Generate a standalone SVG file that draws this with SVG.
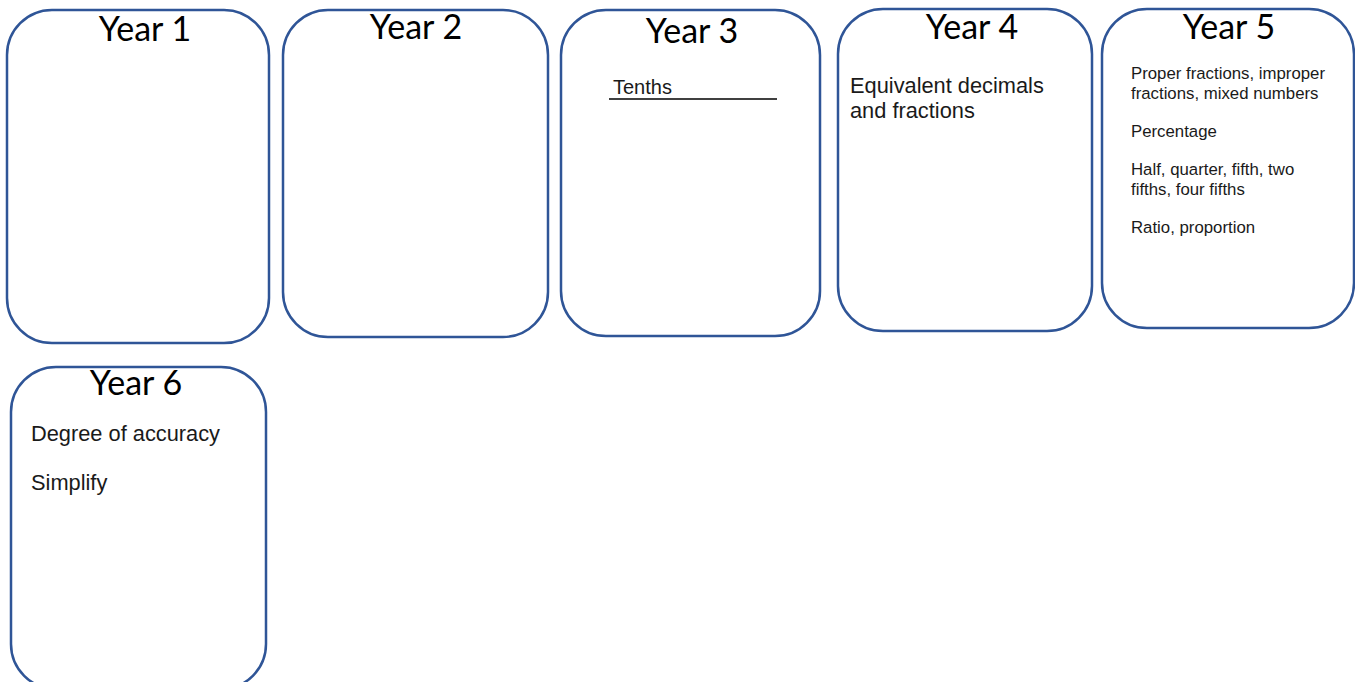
<svg xmlns="http://www.w3.org/2000/svg" width="1355" height="682" viewBox="0 0 1355 682">
  <style>
    .card { fill: #ffffff; stroke: #2f5597; stroke-width: 2.5; }
    .title { font-family: Lato, "Open Sans", sans-serif; font-size: 34px; fill: #000; text-anchor: middle; }
    .body { font-family: "Liberation Sans", Arial, sans-serif; fill: #1a1a1a; }
    .b22 { font-size: 21.8px; }
    .b20 { font-size: 20px; }
    .b17 { font-size: 16.8px; }
  </style>
  <rect width="1355" height="682" fill="#ffffff"/>

  <g id="year1">
    <rect class="card" x="7" y="10" width="262" height="333" rx="45" ry="45"/>
    <text class="title" x="145" y="41">Year 1</text>
  </g>

  <g id="year2">
    <rect class="card" x="283" y="10" width="265" height="327" rx="45" ry="45"/>
    <text class="title" x="416" y="39">Year 2</text>
  </g>

  <g id="year3">
    <rect class="card" x="561" y="10" width="259" height="326" rx="45" ry="45"/>
    <text class="title" x="692" y="43">Year 3</text>
    <text class="body b20" x="613" y="94">Tenths</text>
    <line x1="609" y1="99" x2="777" y2="99" stroke="#000" stroke-width="1.5"/>
  </g>

  <g id="year4">
    <rect class="card" x="838" y="9" width="254" height="322" rx="45" ry="45"/>
    <text class="title" x="972" y="39">Year 4</text>
    <text class="body b22" x="850" y="93">Equivalent decimals</text>
    <text class="body b22" x="850" y="118">and fractions</text>
  </g>

  <g id="year5">
    <rect class="card" x="1102" y="9" width="252" height="319" rx="45" ry="45"/>
    <text class="title" x="1229" y="39">Year 5</text>
    <text class="body b17" x="1131" y="79">Proper fractions, improper</text>
    <text class="body b17" x="1131" y="99">fractions, mixed numbers</text>
    <text class="body b17" x="1131" y="137">Percentage</text>
    <text class="body b17" x="1131" y="175">Half, quarter, fifth, two</text>
    <text class="body b17" x="1131" y="195">fifths, four fifths</text>
    <text class="body b17" x="1131" y="233">Ratio, proportion</text>
  </g>

  <g id="year6">
    <rect class="card" x="11" y="367" width="255" height="322" rx="45" ry="45"/>
    <text class="title" x="136" y="395">Year 6</text>
    <text class="body b22" x="31" y="441">Degree of accuracy</text>
    <text class="body b22" x="31" y="490">Simplify</text>
  </g>

  <g id="connectors"></g>
</svg>
